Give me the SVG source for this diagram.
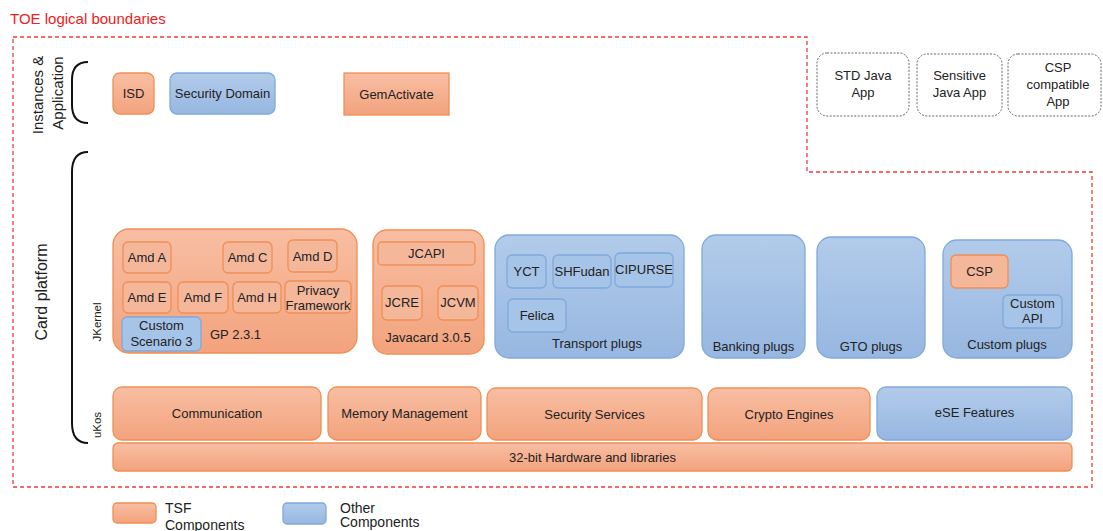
<svg xmlns="http://www.w3.org/2000/svg" width="1103" height="531" viewBox="0 0 1103 531">
<defs>
<linearGradient id="go" x1="0" y1="0" x2="0" y2="1"><stop offset="0" stop-color="#F8BEA3"/><stop offset="1" stop-color="#F3A37D"/></linearGradient>
<linearGradient id="gb" x1="0" y1="0" x2="0" y2="1"><stop offset="0" stop-color="#B2CBEA"/><stop offset="1" stop-color="#97B7E1"/></linearGradient>
<style>
.o{fill:url(#go);stroke:#EF8F55;stroke-width:1.3}
.b{fill:url(#gb);stroke:#7FAADB;stroke-width:1.3}
.os{fill:#F5B79A;stroke:#EF8F55;stroke-width:1.3}
.bs{fill:#A6C3E8;stroke:#7FAADB;stroke-width:1.3}
.app{fill:#fff;stroke:#666;stroke-width:1;stroke-dasharray:2 1.5}
.t{font-family:"Liberation Sans",Arial,sans-serif;font-size:13px;fill:#222;text-anchor:middle}
.s{font-family:"Liberation Sans",Arial,sans-serif;fill:#222}
.br{fill:none;stroke:#111;stroke-width:2}
.bd{fill:none;stroke:#F03A3A;stroke-width:1.3;stroke-dasharray:4 3}
</style>
</defs>
<rect width="1103" height="531" fill="#fff"/>
<text x="10" y="24" font-family="Liberation Sans,Arial,sans-serif" font-size="15" fill="#F02020">TOE logical boundaries</text>
<path class="bd" d="M13,37 H807 V172 H1092 V487 H13 Z"/>

<g id="labels">
<text class="s" style="font-size:15px" text-anchor="middle" transform="translate(43,95) rotate(-90)">Instances &amp;</text>
<text class="s" style="font-size:15px" text-anchor="middle" transform="translate(63,93) rotate(-90)">Application</text>
<text class="s" style="font-size:16px" text-anchor="middle" transform="translate(47,292) rotate(-90)">Card platform</text>
<text class="s" style="font-size:11.5px" text-anchor="middle" transform="translate(101,322) rotate(-90)">JKernel</text>
<text class="s" style="font-size:11.5px" text-anchor="middle" transform="translate(101,425) rotate(-90)">uKos</text>
</g>
<g id="connectors">
<path class="br" d="M88,62 C76,62 72,69 72,80 L72,105 C72,116 76,123 88,123"/>
<path class="br" d="M88,152 C76,152 72,160 72,172 L72,423 C72,435 76,443 88,443"/>
</g>

<g id="isd"><rect class="o" x="113" y="73" width="41" height="41" rx="7"/><text class="t" x="133.5" y="98">ISD</text></g>
<g id="secdomain"><rect class="b" x="170" y="73" width="105" height="41" rx="7"/><text class="t" x="222.5" y="98">Security Domain</text></g>
<g id="gemactivate"><rect class="o" x="344" y="73" width="105" height="42"/><text class="t" x="396.5" y="99">GemActivate</text></g>

<g id="stdjava"><rect class="app" x="817" y="53" width="92" height="63" rx="10"/><text class="t" x="863" y="80">STD Java</text><text class="t" x="863" y="97">App</text></g>
<g id="sensjava"><rect class="app" x="917" y="54" width="85" height="62" rx="10"/><text class="t" x="959.5" y="80">Sensitive</text><text class="t" x="959.5" y="97">Java App</text></g>
<g id="cspapp"><rect class="app" x="1008" y="54" width="93" height="62" rx="10"/><text class="t" x="1058" y="72">CSP</text><text class="t" x="1058" y="89">compatible</text><text class="t" x="1058" y="106">App</text></g>

<g id="gp">
<rect class="o" x="113" y="229" width="244" height="124" rx="16"/>
<rect class="os" x="123" y="242" width="48" height="31" rx="5"/><text class="t" x="147" y="262">Amd A</text>
<rect class="os" x="223" y="242" width="49" height="31" rx="5"/><text class="t" x="247.5" y="262">Amd C</text>
<rect class="os" x="288" y="240" width="49" height="32" rx="5"/><text class="t" x="312.5" y="261">Amd D</text>
<rect class="os" x="123" y="282" width="48" height="31" rx="5"/><text class="t" x="147" y="302">Amd E</text>
<rect class="os" x="178" y="282" width="50" height="31" rx="5"/><text class="t" x="203" y="302">Amd F</text>
<rect class="os" x="233" y="282" width="48" height="31" rx="5"/><text class="t" x="257" y="302">Amd H</text>
<rect class="os" x="285" y="281" width="66" height="32" rx="5"/><text class="t" x="318" y="295">Privacy</text><text class="t" x="318" y="310">Framework</text>
<rect class="bs" x="122" y="317" width="79" height="34" rx="5"/><text class="t" x="161.5" y="330">Custom</text><text class="t" x="161.5" y="346">Scenario 3</text>
<text class="s" style="font-size:13px" x="210" y="339">GP 2.3.1</text>
</g>

<g id="javacard">
<rect class="o" x="373" y="230" width="111" height="124" rx="14"/>
<rect class="os" x="378" y="242" width="97" height="23" rx="4"/><text class="t" x="426.5" y="258">JCAPI</text>
<rect class="os" x="382" y="286" width="40" height="34" rx="5"/><text class="t" x="402" y="307">JCRE</text>
<rect class="os" x="438" y="286" width="40" height="34" rx="5"/><text class="t" x="458" y="307">JCVM</text>
<text class="t" x="428" y="342">Javacard 3.0.5</text>
</g>

<g id="transport">
<rect class="b" x="495" y="235" width="189" height="123" rx="14"/>
<rect class="bs" x="507" y="255" width="39" height="33" rx="5"/><text class="t" x="526.5" y="276">YCT</text>
<rect class="bs" x="553" y="255" width="58" height="33" rx="5"/><text class="t" x="582" y="276">SHFudan</text>
<rect class="bs" x="615" y="253" width="58" height="34" rx="5"/><text class="t" x="644" y="274">CIPURSE</text>
<rect class="bs" x="508" y="299" width="58" height="33" rx="5"/><text class="t" x="537" y="320">Felica</text>
<text class="t" x="597" y="348">Transport plugs</text>
</g>

<g id="banking"><rect class="b" x="702" y="235" width="103" height="123" rx="14"/><text class="t" x="753.5" y="351">Banking plugs</text></g>
<g id="gto"><rect class="b" x="817" y="237" width="108" height="121" rx="14"/><text class="t" x="871" y="351">GTO plugs</text></g>
<g id="customplugs">
<rect class="b" x="943" y="240" width="129" height="118" rx="14"/>
<rect class="os" x="951" y="255" width="57" height="33" rx="5"/><text class="t" x="979.5" y="276">CSP</text>
<rect class="bs" x="1003" y="295" width="59" height="33" rx="5"/><text class="t" x="1032.5" y="308">Custom</text><text class="t" x="1032.5" y="323">API</text>
<text class="t" x="1007" y="349">Custom plugs</text>
</g>

<g id="comm"><rect class="o" x="113" y="387" width="208" height="53" rx="9"/><text class="t" x="217" y="418">Communication</text></g>
<g id="mem"><rect class="o" x="328" y="387" width="153" height="53" rx="9"/><text class="t" x="404.5" y="418">Memory Management</text></g>
<g id="secsvc"><rect class="o" x="487" y="388" width="215" height="52" rx="9"/><text class="t" x="594.5" y="419">Security Services</text></g>
<g id="crypto"><rect class="o" x="708" y="388" width="162" height="52" rx="9"/><text class="t" x="789" y="419">Crypto Engines</text></g>
<g id="ese"><rect class="b" x="877" y="387" width="195" height="53" rx="9"/><text class="t" x="974.5" y="417">eSE Features</text></g>
<g id="hw"><rect class="o" x="113" y="443" width="959" height="28" rx="5"/><text class="t" x="592.5" y="462">32-bit Hardware and libraries</text></g>

<g id="legend">
<rect class="o" x="113" y="503" width="43" height="20" rx="4"/>
<text class="s" style="font-size:14px" x="165" y="513">TSF</text><text class="s" style="font-size:14px" x="165" y="530">Components</text>
<rect class="b" x="283" y="503" width="43" height="21" rx="4"/>
<text class="s" style="font-size:14px" x="340" y="513">Other</text><text class="s" style="font-size:14px" x="340" y="527">Components</text>
</g>
</svg>
